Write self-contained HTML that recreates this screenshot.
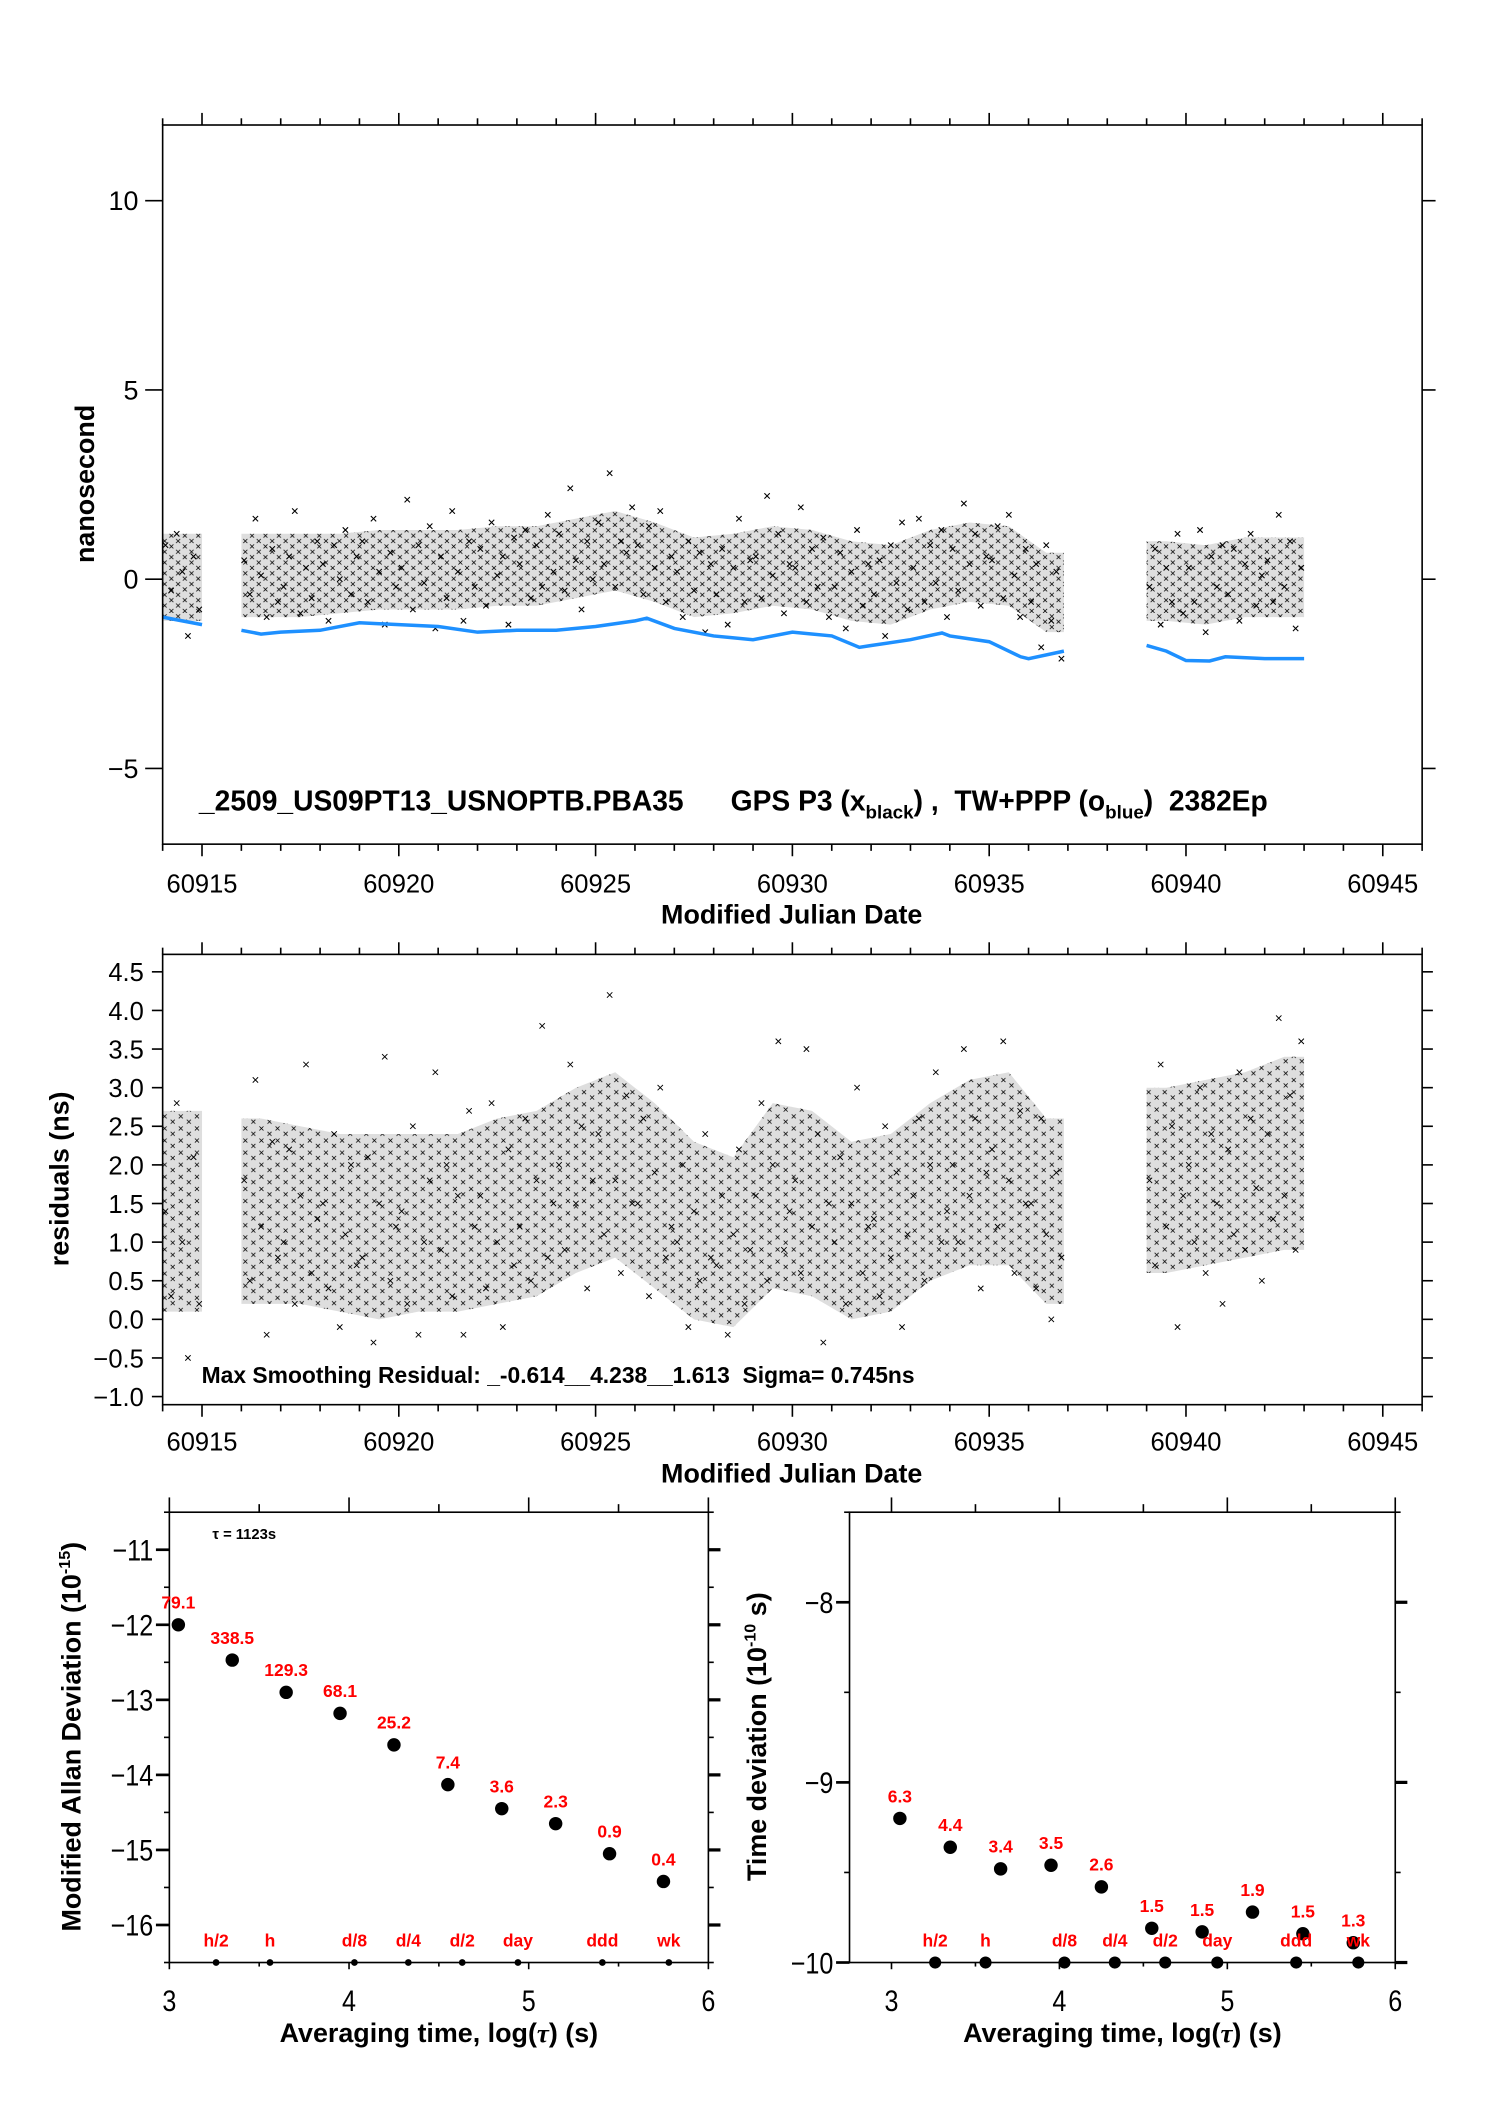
<!DOCTYPE html>
<html><head><meta charset="utf-8"><style>
html,body{margin:0;padding:0;background:#fff}
svg{display:block;font-family:"Liberation Sans",sans-serif}
</style></head><body>
<svg id="fig" width="1488" height="2105" viewBox="0 0 1107 1566" preserveAspectRatio="none" xmlns="http://www.w3.org/2000/svg">
<defs>
<pattern id="xpat" width="10" height="8" patternUnits="userSpaceOnUse">
<path d="M1 1L4 4M1 4L4 1M6 5L9 8M6 8L9 5" stroke="#000" stroke-width="0.6" fill="none"/>
</pattern>
<pattern id="xpat2" width="12" height="9" patternUnits="userSpaceOnUse">
<path d="M1 1L4 4M1 4L4 1M7 5L10 8M7 8L10 5" stroke="#000" stroke-width="0.55" fill="none"/>
</pattern>
</defs>
</svg>
<script>
// ---------- data ----------
const dayStarts = [60914,60916,60917,60918,60919,60920,60921,60922,60923,60924,60925,60926,60927,60928,60929,60930,60931,60932,60933,60934,60935,60936,60939,60940,60941,60942];
const topVals = [
[0.9,-0.3,1.2,0.2,-1.5,0.6,-0.8],[0.5,-0.4,1.6,0.1,-1.0,0.8,-0.6],[-0.2,0.6,1.8,-0.9,0.3,-0.5,1.0],
[0.4,-1.1,0.9,0.0,1.3,-0.4,0.6],[1.0,-0.6,1.6,0.2,-1.2,0.7,-0.2],[0.3,2.1,-0.8,0.9,-0.1,1.4,-1.3],
[0.6,-0.5,1.8,0.2,-1.1,1.0,-0.2],[0.8,-0.7,1.5,0.1,0.6,-1.2,1.1],[0.4,1.3,-0.5,0.9,-0.2,1.7,0.2],
[1.2,-0.3,2.4,0.5,-0.8,1.0,0.0],[1.5,0.4,2.8,-0.2,1.0,0.7,1.9],[0.9,-0.4,1.4,0.3,1.8,-0.6,0.6],
[0.2,-1.0,1.0,-0.3,0.7,-1.4,0.4],[-0.4,0.8,-1.2,0.3,1.6,-0.6,0.5],[0.6,-0.5,2.2,0.1,1.2,-0.9,0.4],
[0.3,1.9,-0.6,0.8,-0.2,1.1,-1.0],[-0.2,0.7,-1.3,0.2,1.3,-0.7,0.4],[-0.4,0.5,-1.5,0.9,-0.1,1.5,-0.8],
[0.3,1.6,-0.6,0.9,-0.1,1.3,-1.0],[0.8,-0.3,2.0,0.4,1.2,-0.7,0.6],[0.5,1.4,-0.5,1.7,0.1,-1.0,0.8],
[-0.6,0.4,-1.8,0.9,-1.1,0.2,-2.1],[-0.2,0.8,-1.2,0.3,-0.6,1.2,-0.9],[0.3,-0.6,1.3,-1.4,0.6,-0.2,0.9],
[-0.4,0.8,-1.1,0.4,1.2,-0.7,0.1],[0.5,-0.6,1.7,-0.2,1.0,-1.3,0.3]];
const topBandLo = [-1.1,-1.0,-1.0,-0.9,-0.8,-0.8,-0.8,-0.7,-0.7,-0.5,-0.3,-0.6,-1.0,-0.9,-0.7,-0.8,-1.1,-1.2,-0.8,-0.6,-0.7,-1.4,-1.1,-1.2,-1.0,-1.0];
const topBandHi = [1.2,1.2,1.2,1.2,1.3,1.3,1.3,1.4,1.4,1.6,1.8,1.5,1.1,1.2,1.4,1.3,1.0,0.9,1.3,1.5,1.4,0.7,1.0,0.9,1.1,1.1];
const blueX = [60914,60914.5,60915,60916,60916.5,60917,60918,60919,60920,60921,60922,60923,60924,60925,60926,60926.3,60927,60928,60929,60930,60931,60931.7,60932,60933,60933.8,60934,60935,60935.8,60936,60936.9,60939,60939.5,60940,60940.6,60941,60942,60943];
const blueY = [-1.0,-1.1,-1.2,-1.35,-1.45,-1.4,-1.35,-1.15,-1.2,-1.25,-1.4,-1.35,-1.35,-1.25,-1.1,-1.03,-1.3,-1.5,-1.6,-1.4,-1.5,-1.8,-1.75,-1.6,-1.42,-1.5,-1.65,-2.05,-2.1,-1.9,-1.75,-1.9,-2.15,-2.16,-2.05,-2.1,-2.1];
const resVals = [
[1.4,0.3,2.8,1.0,-0.5,2.1,0.2],[1.8,0.5,3.1,1.2,-0.2,2.3,0.8],[1.0,2.2,0.2,1.6,3.3,0.6,1.3],
[1.5,0.4,2.4,-0.1,1.1,2.0,0.7],[0.8,2.1,-0.3,1.5,3.4,0.5,1.2],[1.4,0.2,2.5,-0.2,1.0,1.8,3.2],
[0.9,2.0,0.3,1.6,-0.2,2.7,1.2],[1.6,0.4,2.8,1.0,-0.1,2.2,0.7],[1.2,2.6,0.5,1.8,3.8,0.8,1.5],
[2.0,0.9,3.3,1.5,2.5,0.4,1.8],[2.4,1.1,4.2,1.8,0.6,2.9,1.5],[1.5,2.6,0.3,1.9,3.0,0.8,1.2],
[1.0,2.0,-0.1,1.4,0.5,2.4,0.8],[0.7,1.6,-0.2,1.1,2.2,0.2,0.9],[1.6,2.8,0.5,2.0,3.6,0.9,1.4],
[1.8,0.6,3.5,1.2,2.4,-0.3,1.5],[1.0,2.1,0.2,1.5,3.0,0.6,1.2],[1.3,0.3,2.5,0.8,1.9,-0.1,1.1],
[1.6,2.6,0.5,2.0,3.2,1.0,1.4],[2.0,1.0,3.5,1.6,2.6,0.4,1.9],[2.2,1.2,3.6,1.8,0.6,2.7,1.5],
[1.5,0.4,2.6,1.1,0.0,1.9,0.8],[1.8,0.7,3.3,1.2,2.5,-0.1,1.6],[2.0,1.0,3.0,0.6,2.4,1.5,0.2],
[2.2,1.1,3.2,0.9,2.6,1.7,0.5],[2.4,1.3,3.9,1.6,2.9,0.9,3.6]];
const resBandLo = [0.1,0.2,0.2,0.1,0.0,0.1,0.1,0.2,0.3,0.6,0.8,0.4,0.0,-0.1,0.4,0.3,0.0,0.1,0.5,0.7,0.7,0.2,0.6,0.7,0.8,0.9];
const resBandHi = [2.7,2.6,2.5,2.4,2.4,2.4,2.4,2.6,2.7,3.0,3.2,2.8,2.3,2.1,2.8,2.7,2.3,2.4,2.8,3.1,3.2,2.6,3.0,3.1,3.2,3.4];
const mjdTicks = [60915,60920,60925,60930,60935,60940,60945];
const nsTicks = [10,5,0,-5];
const resTicks = [4.5,4.0,3.5,3.0,2.5,2.0,1.5,1.0,0.5,0.0,-0.5,-1.0];
const logTauTicks = [3,4,5,6];
const adevX = [3.05,3.35,3.65,3.95,4.25,4.55,4.85,5.15,5.45,5.75];
const adevY = [-12.0,-12.47,-12.9,-13.18,-13.6,-14.13,-14.45,-14.65,-15.05,-15.42];
const adevLabels = ["79.1","338.5","129.3","68.1","25.2","7.4","3.6","2.3","0.9","0.4"];
const adevTicks = [-11,-12,-13,-14,-15,-16];
const tdevX = [3.05,3.35,3.65,3.95,4.25,4.55,4.85,5.15,5.45,5.75];
const tdevY = [-9.2,-9.36,-9.48,-9.46,-9.58,-9.81,-9.83,-9.72,-9.84,-9.89];
const tdevLabels = ["6.3","4.4","3.4","3.5","2.6","1.5","1.5","1.9","1.5","1.3"];
const tdevTicks = [-8,-9,-10];
const markX = [3.26,3.56,4.03,4.33,4.63,4.94,5.41,5.78];
const markLabels = ["h/2","h","d/8","d/4","d/2","day","ddd","wk"];

// ---------- helpers ----------
const NS="http://www.w3.org/2000/svg";
const svg=document.getElementById('fig');
function mk(tag,attrs,parent,text){const e=document.createElementNS(NS,tag);for(const k in attrs)e.setAttribute(k,attrs[k]);if(text!==undefined)e.textContent=text;(parent||svg).appendChild(e);return e;}
function scale(d0,d1,r0,r1){return v=>r0+(v-d0)*(r1-r0)/(d1-d0);}
function fmt(v){return (v<0?'\u2212':'')+Math.abs(v);}
function spanOf(d){return d===60936?0.9:1;}

function frame(g,L,T,R,B){
  const f=mk('rect',{x:L,y:T,width:R-L,height:B-T,fill:'none',stroke:'#000','stroke-width':1.2},g);
  
  
}
function xTicks(g,xs,from,to,step,majors,T,B){
  for(let v=from;v<=to+1e-9;v+=step){
    const isMaj=majors.some(m=>Math.abs(m-v)<1e-6);const x=xs(v);
    const t=mk('line',{x1:x,x2:x,y1:T,y2:T-(isMaj?9:5),stroke:'#000','stroke-width':1.2},g);
    
    
    const b=mk('line',{x1:x,x2:x,y1:B,y2:B+(isMaj?9:5),stroke:'#000','stroke-width':1.2},g);
    
    
  }
}
function bands(g,xs,ys,lo,hi,pat,name){
  const groups=[[],[],[]];
  dayStarts.forEach((d,i)=>{const s=d<60915.5?0:(d<60938?1:2);groups[s].push(i);});
  groups.forEach(idx=>{
    const up=[],dn=[];
    idx.forEach((i,k)=>{const d=dayStarts[i],sp=spanOf(d);
      if(k===0){up.push([xs(d),ys(hi[i])]);dn.push([xs(d),ys(lo[i])]);}
      up.push([xs(d+sp/2),ys(hi[i])]);dn.push([xs(d+sp/2),ys(lo[i])]);
      if(k===idx.length-1){up.push([xs(d+sp),ys(hi[i])]);dn.push([xs(d+sp),ys(lo[i])]);}
    });
    const pts=up.concat(dn.reverse()).map(p=>p[0].toFixed(1)+','+p[1].toFixed(1)).join(' ');
    const p1=mk('polygon',{points:pts,fill:'#000','fill-opacity':0.13},g);
    
    
    const p2=mk('polygon',{points:pts,fill:'url(#'+pat+')'},g);
    
    
  });
}

// ---------- Panel 1 ----------
(function(){
  const L=121,R=1058,T=93,B=628;
  const xs=scale(60914,60946,L,R), ys=scale(-7,12,B,T);
  const g=mk('g',{});
  
  
  bands(g,xs,ys,topBandLo,topBandHi,'xpat','gps-p3-density');
  dayStarts.forEach((d,i)=>{
    const span=spanOf(d);
    topVals[i].forEach((v,j)=>{
      const cx=xs(d+span*(j+0.5)/7), cy=ys(v);
      const p=mk('path',{d:`M${cx-2} ${cy-2}L${cx+2} ${cy+2}M${cx-2} ${cy+2}L${cx+2} ${cy-2}`,stroke:'#000','stroke-width':0.8},g);
      
      
    });
  });
  const segs=[[],[],[]];
  blueX.forEach((x,i)=>{const s=x<60915.5?0:(x<60938?1:2);segs[s].push(xs(x).toFixed(1)+','+ys(blueY[i]).toFixed(1));});
  segs.forEach(s=>{const pl=mk('polyline',{points:s.join(' '),fill:'none',stroke:'#1e90ff','stroke-width':2.6},g);
    
    });
  frame(g,L,T,R,B);
  xTicks(g,xs,60914,60946,1,mjdTicks,T,B);
  nsTicks.forEach(v=>{const y=ys(v);
    const a=mk('line',{x1:L-13,x2:L,y1:y,y2:y,stroke:'#000','stroke-width':1.2},g);
    
    const b=mk('line',{x1:R,x2:R+10,y1:y,y2:y,stroke:'#000','stroke-width':1.2},g);
    
    const t=mk('text',{x:L-18,y:y+7,'text-anchor':'end','font-size':20},g,fmt(v));
    });
  mjdTicks.forEach(v=>{const t=mk('text',{x:xs(v),y:664,'text-anchor':'middle','font-size':19},g,String(v));
    });
  const xt=mk('text',{x:589,y:687,'text-anchor':'middle','font-size':20,'font-weight':'bold'},g,'Modified Julian Date');
  
  const yt=mk('text',{x:0,y:0,'text-anchor':'middle','font-size':20,'font-weight':'bold',transform:'translate(70,360) rotate(-90)'},g,'nanosecond');
  
  const tt=mk('text',{x:148,y:603,'font-size':21,'font-weight':'bold'},g);
  
  tt.innerHTML='_2509_US09PT13_USNOPTB.PBA35\u00a0\u00a0\u00a0\u00a0\u00a0 GPS P3 (x<tspan font-size="14" dy="6">black</tspan><tspan dy="-6">) ,\u00a0 TW+PPP (o</tspan><tspan font-size="14" dy="6">blue</tspan><tspan dy="-6">)\u00a0 2382Ep</tspan>';
})();

// ---------- Panel 2 ----------
(function(){
  const L=121,R=1058,T=710,B=1045;
  const xs=scale(60914,60946,L,R), ys=scale(-1.105,4.726,B,T);
  const g=mk('g',{});
  
  
  bands(g,xs,ys,resBandLo,resBandHi,'xpat2','residual-density');
  dayStarts.forEach((d,i)=>{
    const span=spanOf(d);
    resVals[i].forEach((v,j)=>{
      const cx=xs(d+span*(j+0.5)/7), cy=ys(v);
      const p=mk('path',{d:`M${cx-2} ${cy-2}L${cx+2} ${cy+2}M${cx-2} ${cy+2}L${cx+2} ${cy-2}`,stroke:'#000','stroke-width':0.7},g);
      
      
    });
  });
  frame(g,L,T,R,B);
  xTicks(g,xs,60914,60946,1,mjdTicks,T,B);
  resTicks.forEach(v=>{const y=ys(v);
    const a=mk('line',{x1:L-8,x2:L,y1:y,y2:y,stroke:'#000','stroke-width':1.2},g);
    
    const b=mk('line',{x1:R,x2:R+8,y1:y,y2:y,stroke:'#000','stroke-width':1.2},g);
    
    const t=mk('text',{x:L-14,y:y+7,'text-anchor':'end','font-size':19},g,(v<0?'\u2212':'')+Math.abs(v).toFixed(1));
    });
  mjdTicks.forEach(v=>{const t=mk('text',{x:xs(v),y:1079,'text-anchor':'middle','font-size':19},g,String(v));
    });
  const xt=mk('text',{x:589,y:1103,'text-anchor':'middle','font-size':20,'font-weight':'bold'},g,'Modified Julian Date');
  
  const yt=mk('text',{x:0,y:0,'text-anchor':'middle','font-size':20,'font-weight':'bold',transform:'translate(51,877) rotate(-90)'},g,'residuals (ns)');
  
  const st=mk('text',{x:150,y:1029,'font-size':17,'font-weight':'bold'},g,'Max Smoothing Residual: _-0.614__4.238__1.613\u00a0 Sigma= 0.745ns');
  
})();

// ---------- Stability panels ----------
function stabPanel(name,L,R,x0,x1,y0,y1,T,B,px,py,labels,yTicks,minorStep,ytitle,exp,ytitleX,tauNote){
  const xs=scale(x0,x1,L,R), ys=scale(y0,y1,B,T);
  const g=mk('g',{});
  
  
  frame(g,L,T,R,B);
  for(let v=Math.ceil(x0*2)/2;v<=x1+1e-9;v+=0.5){const x=xs(v);const maj=Math.abs(v-Math.round(v))<1e-6;
    const t=mk('line',{x1:x,x2:x,y1:T,y2:T-(maj?11:6),stroke:'#000','stroke-width':1.2},g);
    
    const b=mk('line',{x1:x,x2:x,y1:B,y2:B+(maj?5:3),stroke:'#000','stroke-width':1.2},g);
    }
  for(let v=y0;v<=y1+1e-9;v+=minorStep){const y=ys(v);const maj=yTicks.some(m=>Math.abs(m-v)<1e-6);
    const a=mk('line',{x1:L-(maj?10:4),x2:L,y1:y,y2:y,stroke:'#000','stroke-width':maj?2:1.2},g);
    
    const b=mk('line',{x1:R,x2:R+(maj?9:4),y1:y,y2:y,stroke:'#000','stroke-width':maj?2.4:1.2},g);
    }
  yTicks.forEach(v=>{const t=mk('text',{x:L-12,y:ys(v)+8,'text-anchor':'end','font-size':22,transform:`translate(${(L-12)*0.15},0) scale(0.85,1)`},g,fmt(v));
    });
  logTauTicks.forEach(v=>{const t=mk('text',{x:xs(v)/0.85,y:1496,'text-anchor':'middle','font-size':22,transform:'scale(0.85,1)'},g,String(v));
    });
  const cx=(L+R)/2;
  const xt=mk('text',{x:cx,y:1519,'text-anchor':'middle','font-size':20,'font-weight':'bold'},g);
  xt.innerHTML='Averaging time, log(<tspan font-family="Liberation Serif" font-style="italic">\u03c4</tspan>) (s)';
  
  const yt=mk('text',{x:0,y:0,'text-anchor':'middle','font-size':20,'font-weight':'bold',transform:`translate(${ytitleX},1292) rotate(-90)`},g);
  yt.innerHTML=ytitle+' (10<tspan font-size="12" dy="-8">'+exp+'</tspan><tspan dy="8">'+(name==='tdev-panel'?' s)':')')+'</tspan>';
  
  px.forEach((x,i)=>{
    const c=mk('circle',{cx:xs(x),cy:ys(py[i]),r:5,fill:'#000'},g);
    
    const t=mk('text',{x:xs(x),y:ys(py[i])-12,'text-anchor':'middle','font-size':13,'font-weight':'bold',fill:'#ff0000'},g,labels[i]);
    
  });
  markX.forEach((x,i)=>{
    const c=mk('circle',{cx:xs(x),cy:B,r:(name==='tdev-panel'?4.5:2.5),fill:'#000'},g);
    
    const t=mk('text',{x:xs(x),y:B-12,'text-anchor':'middle','font-size':13,'font-weight':'bold',fill:'#ff0000'},g,markLabels[i]);
    
  });
  if(tauNote){const t=mk('text',{x:158,y:1145,'font-size':11,'font-weight':'bold'},g,'\u03c4 = 1123s');
    }
}
stabPanel('adev-panel',126,527,3,6,-16.5,-10.5,1125,1460,adevX,adevY,adevLabels,adevTicks,0.5,'Modified Allan Deviation','-15',60,true);
stabPanel('tdev-panel',632,1038,2.75,6,-10,-7.5,1125,1460,tdevX,tdevY,tdevLabels,tdevTicks,0.5,'Time deviation','-10',570,false);
</script>
</body></html>
